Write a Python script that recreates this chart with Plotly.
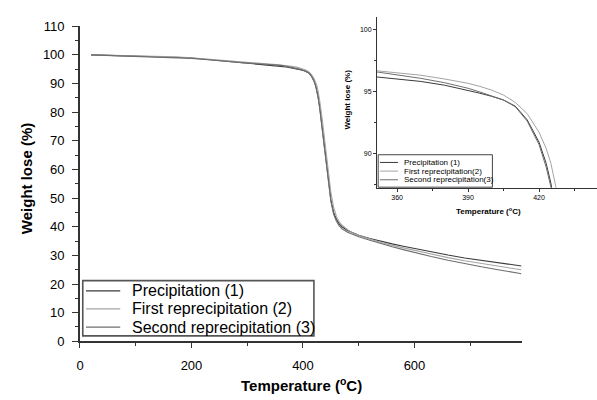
import plotly.graph_objects as go

# ---------------- data ----------------
temperature = [20, 50, 80, 110, 140, 170, 200, 230, 260, 290, 320, 340, 352, 360, 370,
               380, 390, 395, 400, 405, 410, 415, 420, 423, 425, 427, 430, 435, 440,
               445, 450, 455, 460, 465, 470, 480, 490, 500, 520, 540, 560, 580, 600,
               630, 660, 690, 720, 750, 780, 792]

precipitation = [100.0, 99.85, 99.75, 99.6, 99.5, 99.2, 98.9, 98.4, 97.8, 97.3, 96.8, 96.45,
                 96.15, 96.0, 95.8, 95.5, 95.1, 94.85, 94.6, 94.3, 93.8, 92.7, 90.9, 89.2,
                 87.6, 85.6, 81.8, 74.0, 65.0, 56.5, 49.5, 45.0, 42.6, 41.0, 40.0, 38.7,
                 37.8, 37.0, 35.9, 34.9, 34.0, 33.2, 32.4, 31.2, 30.1, 29.1, 28.2, 27.4,
                 26.6, 26.3]

first_reprecip = [100.0, 99.9, 99.8, 99.65, 99.55, 99.3, 99.0, 98.5, 97.9, 97.5, 97.0, 96.8,
                  96.65, 96.5, 96.3, 96.0, 95.65, 95.4, 95.1, 94.7, 94.1, 93.2, 91.7, 90.4,
                  89.2, 87.4, 84.0, 76.8, 68.0, 59.5, 52.0, 46.8, 43.6, 41.7, 40.5, 39.0,
                  37.7, 36.9, 35.6, 34.5, 33.5, 32.6, 31.7, 30.4, 29.2, 28.1, 27.1, 26.2,
                  25.3, 25.0]

second_reprecip = [100.0, 99.8, 99.7, 99.55, 99.4, 99.15, 98.8, 98.3, 97.7, 97.3, 96.9, 96.7,
                   96.55, 96.35, 96.05, 95.7, 95.25, 94.95, 94.65, 94.3, 93.75, 92.6, 90.7,
                   88.9, 87.3, 85.2, 81.2, 73.2, 64.2, 55.7, 48.8, 44.3, 41.9, 40.3, 39.3,
                   38.1, 37.2, 36.5, 35.3, 34.1, 33.0, 32.0, 31.0, 29.6, 28.3, 27.1, 26.0,
                   25.0, 24.0, 23.6]

main_names = ["Precipitation (1)", "First reprecipitation (2)", "Second reprecipitation (3)"]
inset_names = ["Precipitation (1)", "First reprecipitation(2)", "Second reprecipitation(3)"]
series = [precipitation, first_reprecip, second_reprecip]
colors = ["#3a3a3a", "#a4a4a4", "#6e6e6e"]

W, H = 597, 400
FONT = "Arial, Liberation Sans, sans-serif"
AX = "#333333"


def px(x):
    return x / W


def py(y):
    return 1 - y / H


fig = go.Figure()

for name, vals, col in zip(main_names, series, colors):
    fig.add_trace(go.Scatter(x=temperature, y=vals, mode="lines", name=name,
                             line=dict(color=col, width=1.1), showlegend=False,
                             xaxis="x", yaxis="y"))
for name, vals, col in zip(inset_names, series, colors):
    fig.add_trace(go.Scatter(x=temperature, y=vals, mode="lines", name=name,
                             line=dict(color=col, width=1.0), showlegend=False,
                             xaxis="x2", yaxis="y2"))

# main axes pixel box
mx0, mx1, my_top, my_bot = 76.5, 521.0, 20.0, 347.3
# inset pixel box
ix0, ix1, iy_top, iy_bot = 375.5, 597.0, 10.0, 187.7

fig.update_layout(
    width=W, height=H, autosize=False,
    margin=dict(l=0, r=0, t=0, b=0, pad=0),
    paper_bgcolor="white", plot_bgcolor="rgba(0,0,0,0)",
    font=dict(family=FONT, color="black"),
    showlegend=False,
    xaxis=dict(domain=[px(mx0), px(mx1)], range=[0, 792], showgrid=False, zeroline=False,
               showline=True, linecolor=AX, linewidth=2, ticks="outside", ticklen=5,
               tickwidth=1.3, tickcolor=AX, tick0=0, dtick=200,
               tickfont=dict(size=13, family=FONT), ticklabelstandoff=6,
               minor=dict(ticks="outside", ticklen=3, tickwidth=1.2, tickcolor=AX,
                          dtick=100, tick0=0, showgrid=False)),
    yaxis=dict(domain=[py(my_bot), py(my_top)], range=[0, 110], showgrid=False,
               zeroline=False, showline=True, linecolor=AX, linewidth=1.6,
               ticks="outside", ticklen=6, tickwidth=1.3, tickcolor=AX, tick0=0, dtick=10,
               tickfont=dict(size=13, family=FONT), ticklabelstandoff=5,
               minor=dict(ticks="outside", ticklen=3, tickwidth=1.2, tickcolor=AX,
                          dtick=5, tick0=0, showgrid=False)),
    xaxis2=dict(domain=[px(ix0), px(ix1)], range=[351.5, 444.5], anchor="y2",
                showgrid=False, zeroline=False, showline=True, linecolor=AX, linewidth=1.2,
                ticks="outside", ticklen=3, tickwidth=1, tickcolor=AX, tick0=360, dtick=30,
                tickfont=dict(size=7, family=FONT),
                minor=dict(ticks="outside", ticklen=2, tickwidth=1, tickcolor=AX,
                           dtick=15, tick0=360, showgrid=False)),
    yaxis2=dict(domain=[py(iy_bot), py(iy_top)], range=[87.23, 101.03], anchor="x2",
                showgrid=False, zeroline=False, showline=True, linecolor=AX, linewidth=1,
                ticks="outside", ticklen=3, tickwidth=1, tickcolor=AX, tick0=90, dtick=5,
                tickfont=dict(size=7, family=FONT),
                minor=dict(ticks="outside", ticklen=2, tickwidth=1, tickcolor=AX,
                           dtick=2.5, tick0=90, showgrid=False)),
)

annotations = [
    dict(text="<b>Weight lose (%)</b>", x=px(22), y=py(178), textangle=-90,
         font=dict(size=15, family=FONT)),
    dict(text="<b>Temperature (<sup>o</sup>C)</b>", x=px(300), y=py(392),
         font=dict(size=15, family=FONT)),
    dict(text="<b>Weight lose (%)</b>", x=px(345.5), y=py(96), textangle=-90,
         font=dict(size=8, family=FONT)),
    dict(text="<b>Temperature (<sup>o</sup>C)</b>", x=px(488), y=py(212),
         font=dict(size=8, family=FONT)),
]
for a in annotations:
    a.update(xref="paper", yref="paper", xanchor="center", yanchor="middle",
             showarrow=False)

shapes = []
# main legend
shapes.append(dict(type="rect", xref="paper", yref="paper", x0=px(79.3), x1=px(312),
                   y0=py(341.7), y1=py(284.3), line=dict(color="#555555", width=1.6),
                   fillcolor="white", layer="above"))
main_rows = [295, 313.7, 332.5]
for name, col, yy in zip(main_names, colors, main_rows):
    shapes.append(dict(type="line", xref="paper", yref="paper", x0=px(82.5), x1=px(117),
                       y0=py(yy), y1=py(yy), line=dict(color=col, width=1.3), layer="above"))
    annotations.append(dict(text=name, x=px(127.3), y=py(yy), xref="paper", yref="paper",
                            xanchor="left", yanchor="middle", showarrow=False,
                            font=dict(size=16, family=FONT)))
# inset legend
shapes.append(dict(type="rect", xref="paper", yref="paper", x0=px(376.7), x1=px(491.7),
                   y0=py(187.2), y1=py(153.5), line=dict(color="#444444", width=1),
                   fillcolor="white", layer="above"))
inset_rows = [161.5, 170.5, 179.5]
for name, col, yy in zip(inset_names, colors, inset_rows):
    shapes.append(dict(type="line", xref="paper", yref="paper", x0=px(378.5), x1=px(396.7),
                       y0=py(yy), y1=py(yy), line=dict(color=col, width=1), layer="above"))
    annotations.append(dict(text=name, x=px(401), y=py(yy), xref="paper", yref="paper",
                            xanchor="left", yanchor="middle", showarrow=False,
                            font=dict(size=8, family=FONT)))

fig.update_layout(annotations=annotations, shapes=shapes)
fig.write_html("out.html")
